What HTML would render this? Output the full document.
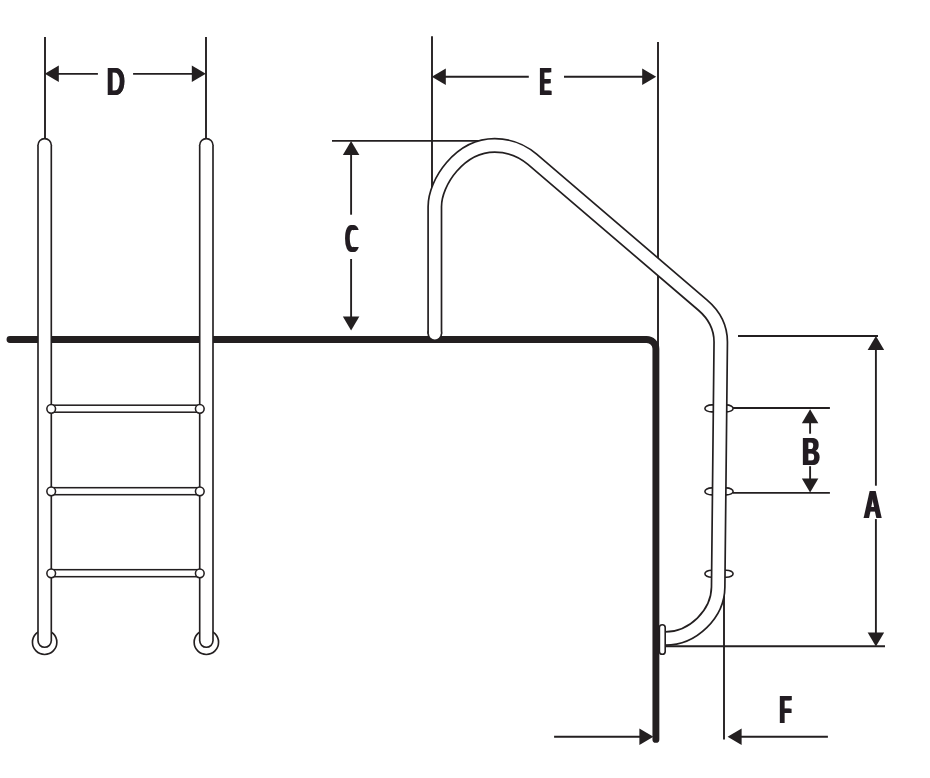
<!DOCTYPE html>
<html><head><meta charset="utf-8"><title>Ladder dimensions</title>
<style>
html,body{margin:0;padding:0;background:#fff}
#w{position:relative;width:930px;height:778px;overflow:hidden;background:#fff}
svg{position:absolute;left:0;top:0;display:block}
</style></head><body><div id="w">
<svg width="930" height="778" viewBox="0 0 930 778">
<defs><clipPath id="cc"><path d="M320,200H372V229.9H353.4V246.9H372V270H320Z"/></clipPath><filter id="hD" filterUnits="userSpaceOnUse" x="87" y="53" width="60" height="60"><feOffset in="SourceGraphic" dx="0.66" dy="0" result="a"/><feOffset in="SourceGraphic" dx="1.33" dy="0" result="b"/><feMerge><feMergeNode in="SourceGraphic"/><feMergeNode in="a"/><feMergeNode in="b"/></feMerge></filter><filter id="hE" filterUnits="userSpaceOnUse" x="519" y="53" width="60" height="60"><feOffset in="SourceGraphic" dx="1.23" dy="0" result="a"/><feOffset in="SourceGraphic" dx="2.47" dy="0" result="b"/><feMerge><feMergeNode in="SourceGraphic"/><feMergeNode in="a"/><feMergeNode in="b"/></feMerge></filter><filter id="hC" filterUnits="userSpaceOnUse" x="324" y="209" width="60" height="60"><feOffset in="SourceGraphic" dx="1.12" dy="0" result="a"/><feOffset in="SourceGraphic" dx="2.24" dy="0" result="b"/><feMerge><feMergeNode in="SourceGraphic"/><feMergeNode in="a"/><feMergeNode in="b"/></feMerge></filter><filter id="hB" filterUnits="userSpaceOnUse" x="782" y="422" width="60" height="60"><feOffset in="SourceGraphic" dx="0.75" dy="0" result="a"/><feOffset in="SourceGraphic" dx="1.50" dy="0" result="b"/><feMerge><feMergeNode in="SourceGraphic"/><feMergeNode in="a"/><feMergeNode in="b"/></feMerge></filter><filter id="hA" filterUnits="userSpaceOnUse" x="843" y="475" width="60" height="60"><feOffset in="SourceGraphic" dx="0.77" dy="0" result="a"/><feOffset in="SourceGraphic" dx="1.53" dy="0" result="b"/><feMerge><feMergeNode in="SourceGraphic"/><feMergeNode in="a"/><feMergeNode in="b"/></feMerge></filter><filter id="hF" filterUnits="userSpaceOnUse" x="759" y="680" width="60" height="60"><feOffset in="SourceGraphic" dx="1.07" dy="0" result="a"/><feOffset in="SourceGraphic" dx="2.14" dy="0" result="b"/><feMerge><feMergeNode in="SourceGraphic"/><feMergeNode in="a"/><feMergeNode in="b"/></feMerge></filter></defs>
<rect width="930" height="778" fill="#fff"/>
<g stroke="#231f20" stroke-width="1.9" fill="none" stroke-linecap="butt">
<line x1="45.00" y1="37.00" x2="45.00" y2="140.00"/>
<line x1="206.00" y1="37.00" x2="206.00" y2="140.00"/>
<line x1="50.00" y1="73.90" x2="97.90" y2="73.90"/>
<line x1="133.10" y1="73.90" x2="200.00" y2="73.90"/>
<line x1="432.00" y1="36.20" x2="432.00" y2="190.00"/>
<line x1="658.00" y1="41.90" x2="658.00" y2="346.00"/>
<line x1="440.00" y1="76.80" x2="528.80" y2="76.80"/>
<line x1="564.00" y1="76.80" x2="650.00" y2="76.80"/>
<line x1="332.00" y1="140.90" x2="485.00" y2="140.90"/>
<line x1="351.10" y1="150.00" x2="351.10" y2="214.70"/>
<line x1="351.10" y1="259.00" x2="351.10" y2="320.00"/>
<line x1="738.00" y1="336.00" x2="878.00" y2="336.00"/>
<line x1="666.00" y1="646.20" x2="885.00" y2="646.20"/>
<line x1="875.90" y1="345.00" x2="875.90" y2="485.70"/>
<line x1="875.90" y1="519.10" x2="875.90" y2="637.00"/>
<line x1="733.00" y1="408.00" x2="829.90" y2="408.00"/>
<line x1="733.00" y1="492.90" x2="829.90" y2="492.90"/>
<line x1="810.10" y1="418.00" x2="810.10" y2="433.70"/>
<line x1="810.10" y1="466.20" x2="810.10" y2="482.00"/>
<line x1="724.00" y1="592.00" x2="724.00" y2="739.60"/>
<line x1="735.00" y1="736.80" x2="827.90" y2="736.80"/>
<line x1="554.10" y1="736.80" x2="645.00" y2="736.80"/>
</g>
<g fill="#231f20">
<polygon points="44.80,73.80 58.80,65.55 58.80,82.05"/>
<polygon points="205.80,73.80 191.80,65.55 191.80,82.05"/>
<polygon points="431.80,76.70 445.80,68.45 445.80,84.95"/>
<polygon points="656.20,76.70 642.20,68.45 642.20,84.95"/>
<polygon points="351.10,141.00 342.85,155.00 359.35,155.00"/>
<polygon points="351.10,330.60 342.85,316.60 359.35,316.60"/>
<polygon points="875.90,335.90 867.65,349.90 884.15,349.90"/>
<polygon points="875.90,646.60 867.65,632.60 884.15,632.60"/>
<polygon points="810.10,409.30 801.85,423.30 818.35,423.30"/>
<polygon points="810.10,492.40 801.85,478.40 818.35,478.40"/>
<polygon points="727.60,736.80 741.60,728.55 741.60,745.05"/>
<polygon points="653.40,736.80 639.40,728.55 639.40,745.05"/>
</g>
<path d="M10,339.55 H646.7 A9.2,9.2 0 0 1 655.9,348.75 V739.4" fill="none" stroke="#231f20" stroke-width="6.9" stroke-linecap="round" stroke-linejoin="round"/>
<circle cx="44.65" cy="642.3" r="12.2" fill="#fff" stroke="#231f20" stroke-width="1.65"/>
<circle cx="206.35" cy="642.3" r="12.2" fill="#fff" stroke="#231f20" stroke-width="1.65"/>
<line x1="44.65" y1="145.2" x2="44.65" y2="640.6" stroke="#231f20" stroke-width="14.95" stroke-linecap="round"/>
<line x1="44.65" y1="145.2" x2="44.65" y2="640.6" stroke="#fff" stroke-width="11.65" stroke-linecap="round"/>
<line x1="206.35" y1="145.2" x2="206.35" y2="640.6" stroke="#231f20" stroke-width="14.95" stroke-linecap="round"/>
<line x1="206.35" y1="145.2" x2="206.35" y2="640.6" stroke="#fff" stroke-width="11.65" stroke-linecap="round"/>
<rect x="51.3" y="405.20" width="148.4" height="7" fill="#fff" stroke="#231f20" stroke-width="1.55"/>
<circle cx="51.20" cy="408.80" r="4.35" fill="#fff" stroke="#231f20" stroke-width="1.55"/>
<circle cx="199.80" cy="408.80" r="4.35" fill="#fff" stroke="#231f20" stroke-width="1.55"/>
<rect x="51.3" y="487.70" width="148.4" height="7" fill="#fff" stroke="#231f20" stroke-width="1.55"/>
<circle cx="51.20" cy="491.30" r="4.35" fill="#fff" stroke="#231f20" stroke-width="1.55"/>
<circle cx="199.80" cy="491.30" r="4.35" fill="#fff" stroke="#231f20" stroke-width="1.55"/>
<rect x="51.3" y="569.70" width="148.4" height="7" fill="#fff" stroke="#231f20" stroke-width="1.55"/>
<circle cx="51.20" cy="573.30" r="4.35" fill="#fff" stroke="#231f20" stroke-width="1.55"/>
<circle cx="199.80" cy="573.30" r="4.35" fill="#fff" stroke="#231f20" stroke-width="1.55"/>
<rect x="704.9" y="404.90" width="28.2" height="7" rx="6.8" ry="3.5" fill="#fff" stroke="#231f20" stroke-width="1.6"/>
<rect x="704.9" y="487.90" width="28.2" height="7" rx="6.8" ry="3.5" fill="#fff" stroke="#231f20" stroke-width="1.6"/>
<rect x="704.9" y="570.30" width="28.2" height="7" rx="6.8" ry="3.5" fill="#fff" stroke="#231f20" stroke-width="1.6"/>
<path d="M434.8,333.6 V206.66 C434.8,182.3 459.75,145.4 494.72,145.4 A57.8,57.8 0 0 1 532.29,159.29 L702.80,305.16 C714.74,315.38 720.88,327.99 720.73,342.43 L718.18,587.09 C717.90,613.79 693.15,638.52 665.12,638.52 H663.5" fill="none" stroke="#231f20" stroke-width="15.1" stroke-linecap="butt" stroke-linejoin="round"/>
<circle cx="434.8" cy="333.6" r="7.55" fill="#231f20"/>
<path d="M434.8,333.6 V206.66 C434.8,182.3 459.75,145.4 494.72,145.4 A57.8,57.8 0 0 1 532.29,159.29 L702.80,305.16 C714.74,315.38 720.88,327.99 720.73,342.43 L718.18,587.09 C717.90,613.79 693.15,638.52 665.12,638.52 H663.5" fill="none" stroke="#fff" stroke-width="11.7" stroke-linecap="butt" stroke-linejoin="round"/>
<circle cx="434.8" cy="333.6" r="5.85" fill="#fff"/>
<rect x="659.4" y="624.7" width="5.8" height="29.6" rx="2.9" ry="2.9" fill="#fff" stroke="#231f20" stroke-width="1.6"/>
<g font-family="Liberation Sans, sans-serif" font-weight="bold" font-size="38.3" fill="#231f20">
<g filter="url(#hD)"><text transform="translate(106.11,94.90) scale(0.667,1)">D</text></g>
<g filter="url(#hE)"><text transform="translate(538.68,94.70) scale(0.454,1)">E</text></g>
<g filter="url(#hC)" clip-path="url(#cc)"><text transform="translate(344.14,251.55) scale(0.497,1)">C</text></g>
<g filter="url(#hB)"><text transform="translate(801.20,464.70) scale(0.633,1)">B</text></g>
<g filter="url(#hA)"><text transform="translate(863.08,517.80) scale(0.628,1)">A</text></g>
<g filter="url(#hF)"><text transform="translate(778.52,723.00) scale(0.515,1)">F</text></g>
</g>
</svg>

</div></body></html>
